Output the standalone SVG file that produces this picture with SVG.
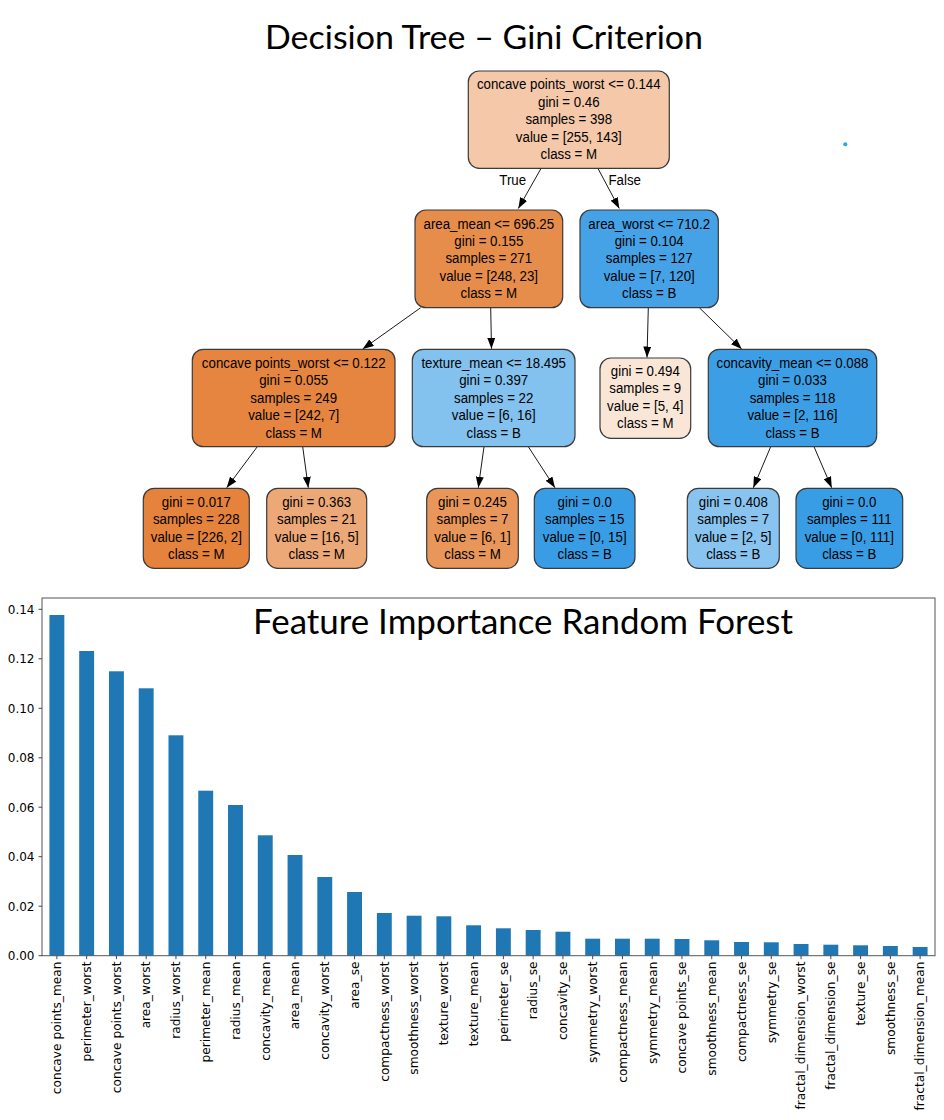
<svg xmlns="http://www.w3.org/2000/svg" width="944" height="1120" viewBox="0 0 944 1120">
<style>
.title{font-family:Lato,"Open Sans","Liberation Sans",sans-serif;fill:#000}
.nt{font-family:"Liberation Sans",Arial,sans-serif;font-size:15px;fill:#000;text-anchor:middle}
.box{stroke:#3a3a3a;stroke-width:1.2}
.edge{stroke:#1a1a1a;stroke-width:1;fill:none;marker-end:url(#ah)}
.bar{fill:#1f77b4}
.tick{stroke:#333;stroke-width:0.9}
.yl{font-family:"DejaVu Sans",sans-serif;font-size:12px;fill:#000;text-anchor:end}
.xl{font-family:"DejaVu Sans",sans-serif;font-size:12.2px;fill:#000;text-anchor:end}
</style>
<defs>
<marker id="ah" markerUnits="userSpaceOnUse" markerWidth="11" markerHeight="8" refX="11" refY="4" orient="auto">
<path d="M0,0 L11,4 L0,8 Z" fill="#000"/>
</marker>
</defs>
<rect width="944" height="1120" fill="#fff"/>
<text class="title" x="484" y="49" font-size="33" text-anchor="middle" textLength="438" lengthAdjust="spacingAndGlyphs">Decision Tree – Gini Criterion</text>

<g id="edges">
<line class="edge" x1="541" y1="168.5" x2="518.3" y2="208.5"/>
<line class="edge" x1="598" y1="168.5" x2="619.3" y2="208.5"/>
<line class="edge" x1="420.7" y1="307.7" x2="362.7" y2="349"/>
<line class="edge" x1="490.7" y1="307.7" x2="491.5" y2="348.8"/>
<line class="edge" x1="648.3" y1="307.7" x2="647" y2="357.5"/>
<line class="edge" x1="699.3" y1="307.7" x2="741.7" y2="349"/>
<line class="edge" x1="257.3" y1="446.7" x2="226.7" y2="487.8"/>
<line class="edge" x1="302.7" y1="446.7" x2="308.3" y2="487.8"/>
<line class="edge" x1="484" y1="446.7" x2="478.3" y2="487.8"/>
<line class="edge" x1="528.3" y1="446.7" x2="555" y2="487.8"/>
<line class="edge" x1="770.7" y1="446.7" x2="753.3" y2="487.8"/>
<line class="edge" x1="814" y1="446.7" x2="831.7" y2="487.8"/>
<g transform="translate(512.7,0) scale(0.885,1)"><text class="nt" x="0" y="185.4">True</text></g>
<g transform="translate(624.7,0) scale(0.885,1)"><text class="nt" x="0" y="185.4">False</text></g>
</g>

<g id="n0">
<rect class="box" x="468.3" y="71" width="201" height="97.3" rx="11" fill="#f4c8a8"/>
<g transform="translate(568.8,0) scale(0.885,1)">
<text class="nt" x="0" y="89.4">concave points_worst &lt;= 0.144</text>
<text class="nt" x="0" y="106.8">gini = 0.46</text>
<text class="nt" x="0" y="124.3">samples = 398</text>
<text class="nt" x="0" y="141.7">value = [255, 143]</text>
<text class="nt" x="0" y="159.2">class = M</text>
</g>
</g>

<g id="n1">
<rect class="box" x="415" y="210" width="147.7" height="97.7" rx="11" fill="#e78d4b"/>
<g transform="translate(488.8,0) scale(0.885,1)">
<text class="nt" x="0" y="228.6">area_mean &lt;= 696.25</text>
<text class="nt" x="0" y="246">gini = 0.155</text>
<text class="nt" x="0" y="263.5">samples = 271</text>
<text class="nt" x="0" y="280.9">value = [248, 23]</text>
<text class="nt" x="0" y="298.3">class = M</text>
</g>
</g>

<g id="n2">
<rect class="box" x="580" y="210" width="138.3" height="97.7" rx="11" fill="#45a2e6"/>
<g transform="translate(649.2,0) scale(0.885,1)">
<text class="nt" x="0" y="228.6">area_worst &lt;= 710.2</text>
<text class="nt" x="0" y="246">gini = 0.104</text>
<text class="nt" x="0" y="263.5">samples = 127</text>
<text class="nt" x="0" y="280.9">value = [7, 120]</text>
<text class="nt" x="0" y="298.3">class = B</text>
</g>
</g>

<g id="n3">
<rect class="box" x="192.3" y="349.3" width="202.7" height="97.4" rx="11" fill="#e6853f"/>
<g transform="translate(293.7,0) scale(0.885,1)">
<text class="nt" x="0" y="367.9">concave points_worst &lt;= 0.122</text>
<text class="nt" x="0" y="385.3">gini = 0.055</text>
<text class="nt" x="0" y="402.8">samples = 249</text>
<text class="nt" x="0" y="420.2">value = [242, 7]</text>
<text class="nt" x="0" y="437.6">class = M</text>
</g>
</g>

<g id="n4">
<rect class="box" x="412.3" y="349.3" width="162.7" height="97.4" rx="11" fill="#83c2ef"/>
<g transform="translate(493.7,0) scale(0.885,1)">
<text class="nt" x="0" y="367.9">texture_mean &lt;= 18.495</text>
<text class="nt" x="0" y="385.3">gini = 0.397</text>
<text class="nt" x="0" y="402.8">samples = 22</text>
<text class="nt" x="0" y="420.2">value = [6, 16]</text>
<text class="nt" x="0" y="437.6">class = B</text>
</g>
</g>

<g id="n5">
<rect class="box" x="600" y="358" width="90.7" height="80.3" rx="11" fill="#fae6d7"/>
<g transform="translate(645.3,0) scale(0.885,1)">
<text class="nt" x="0" y="376.2">gini = 0.494</text>
<text class="nt" x="0" y="393.5">samples = 9</text>
<text class="nt" x="0" y="410.8">value = [5, 4]</text>
<text class="nt" x="0" y="428.1">class = M</text>
</g>
</g>

<g id="n6">
<rect class="box" x="708.3" y="349.3" width="168.4" height="97.4" rx="11" fill="#3c9fe5"/>
<g transform="translate(792.5,0) scale(0.885,1)">
<text class="nt" x="0" y="367.9">concavity_mean &lt;= 0.088</text>
<text class="nt" x="0" y="385.3">gini = 0.033</text>
<text class="nt" x="0" y="402.8">samples = 118</text>
<text class="nt" x="0" y="420.2">value = [2, 116]</text>
<text class="nt" x="0" y="437.6">class = B</text>
</g>
</g>

<g id="n7">
<rect class="box" x="143.3" y="488.3" width="106" height="80" rx="11" fill="#e5823b"/>
<g transform="translate(196.3,0) scale(0.885,1)">
<text class="nt" x="0" y="507">gini = 0.017</text>
<text class="nt" x="0" y="524.4">samples = 228</text>
<text class="nt" x="0" y="541.8">value = [226, 2]</text>
<text class="nt" x="0" y="559">class = M</text>
</g>
</g>

<g id="n8">
<rect class="box" x="266.7" y="488.3" width="100" height="80" rx="11" fill="#eda877"/>
<g transform="translate(316.7,0) scale(0.885,1)">
<text class="nt" x="0" y="507">gini = 0.363</text>
<text class="nt" x="0" y="524.4">samples = 21</text>
<text class="nt" x="0" y="541.8">value = [16, 5]</text>
<text class="nt" x="0" y="559">class = M</text>
</g>
</g>

<g id="n9">
<rect class="box" x="426.7" y="488.3" width="91.6" height="80" rx="11" fill="#e9965a"/>
<g transform="translate(472.5,0) scale(0.885,1)">
<text class="nt" x="0" y="507">gini = 0.245</text>
<text class="nt" x="0" y="524.4">samples = 7</text>
<text class="nt" x="0" y="541.8">value = [6, 1]</text>
<text class="nt" x="0" y="559">class = M</text>
</g>
</g>

<g id="n10">
<rect class="box" x="534.3" y="488.3" width="100.7" height="80" rx="11" fill="#399de5"/>
<g transform="translate(584.7,0) scale(0.885,1)">
<text class="nt" x="0" y="507">gini = 0.0</text>
<text class="nt" x="0" y="524.4">samples = 15</text>
<text class="nt" x="0" y="541.8">value = [0, 15]</text>
<text class="nt" x="0" y="559">class = B</text>
</g>
</g>

<g id="n11">
<rect class="box" x="687.3" y="488.3" width="92" height="80" rx="11" fill="#88c4ef"/>
<g transform="translate(733.3,0) scale(0.885,1)">
<text class="nt" x="0" y="507">gini = 0.408</text>
<text class="nt" x="0" y="524.4">samples = 7</text>
<text class="nt" x="0" y="541.8">value = [2, 5]</text>
<text class="nt" x="0" y="559">class = B</text>
</g>
</g>

<g id="n12">
<rect class="box" x="796" y="488.3" width="106.7" height="80" rx="11" fill="#399de5"/>
<g transform="translate(849.3,0) scale(0.885,1)">
<text class="nt" x="0" y="507">gini = 0.0</text>
<text class="nt" x="0" y="524.4">samples = 111</text>
<text class="nt" x="0" y="541.8">value = [0, 111]</text>
<text class="nt" x="0" y="559">class = B</text>
</g>
</g>

<circle cx="845.3" cy="144.3" r="2" fill="#1aaee0"/>

<g id="chart">
<g id="bars">
<rect class="bar" x="49.43" y="615" width="14.9" height="340.7"/>
<rect class="bar" x="79.2" y="651" width="14.9" height="304.7"/>
<rect class="bar" x="108.97" y="671.3" width="14.9" height="284.4"/>
<rect class="bar" x="138.73" y="688.3" width="14.9" height="267.4"/>
<rect class="bar" x="168.5" y="735.3" width="14.9" height="220.4"/>
<rect class="bar" x="198.27" y="790.7" width="14.9" height="165"/>
<rect class="bar" x="228.03" y="805" width="14.9" height="150.7"/>
<rect class="bar" x="257.8" y="835.3" width="14.9" height="120.4"/>
<rect class="bar" x="287.57" y="855" width="14.9" height="100.7"/>
<rect class="bar" x="317.33" y="877" width="14.9" height="78.7"/>
<rect class="bar" x="347.1" y="892" width="14.9" height="63.7"/>
<rect class="bar" x="376.87" y="913" width="14.9" height="42.7"/>
<rect class="bar" x="406.63" y="915.7" width="14.9" height="40"/>
<rect class="bar" x="436.4" y="916.3" width="14.9" height="39.4"/>
<rect class="bar" x="466.17" y="925.3" width="14.9" height="30.4"/>
<rect class="bar" x="495.93" y="928.3" width="14.9" height="27.4"/>
<rect class="bar" x="525.7" y="930" width="14.9" height="25.7"/>
<rect class="bar" x="555.47" y="931.7" width="14.9" height="24"/>
<rect class="bar" x="585.23" y="938.7" width="14.9" height="17"/>
<rect class="bar" x="615" y="938.7" width="14.9" height="17"/>
<rect class="bar" x="644.77" y="938.7" width="14.9" height="17"/>
<rect class="bar" x="674.53" y="939" width="14.9" height="16.7"/>
<rect class="bar" x="704.3" y="940.3" width="14.9" height="15.4"/>
<rect class="bar" x="734.07" y="942" width="14.9" height="13.7"/>
<rect class="bar" x="763.83" y="942.3" width="14.9" height="13.4"/>
<rect class="bar" x="793.6" y="944" width="14.9" height="11.7"/>
<rect class="bar" x="823.37" y="944.7" width="14.9" height="11"/>
<rect class="bar" x="853.13" y="945.3" width="14.9" height="10.4"/>
<rect class="bar" x="882.9" y="946" width="14.9" height="9.7"/>
<rect class="bar" x="912.67" y="947" width="14.9" height="8.7"/>
</g>
<rect x="42" y="598" width="893" height="357.7" fill="none" stroke="#555" stroke-width="1"/>
<g id="yticks">
<path class="tick" d="M38.5,955.7H42M38.5,906.2H42M38.5,856.7H42M38.5,807.2H42M38.5,757.8H42M38.5,708.3H42M38.5,658.8H42M38.5,609.3H42"/>
<text class="yl" x="34.5" y="960">0.00</text>
<text class="yl" x="34.5" y="910.5">0.02</text>
<text class="yl" x="34.5" y="861">0.04</text>
<text class="yl" x="34.5" y="811.5">0.06</text>
<text class="yl" x="34.5" y="762.1">0.08</text>
<text class="yl" x="34.5" y="712.6">0.10</text>
<text class="yl" x="34.5" y="663.1">0.12</text>
<text class="yl" x="34.5" y="613.6">0.14</text>
</g>
<g id="xticks">
<path class="tick" d="M56.88,955.7V959.2M86.65,955.7V959.2M116.42,955.7V959.2M146.18,955.7V959.2M175.95,955.7V959.2M205.72,955.7V959.2M235.48,955.7V959.2M265.25,955.7V959.2M295.02,955.7V959.2M324.78,955.7V959.2M354.55,955.7V959.2M384.32,955.7V959.2M414.08,955.7V959.2M443.85,955.7V959.2M473.62,955.7V959.2M503.38,955.7V959.2M533.15,955.7V959.2M562.92,955.7V959.2M592.68,955.7V959.2M622.45,955.7V959.2M652.22,955.7V959.2M681.98,955.7V959.2M711.75,955.7V959.2M741.52,955.7V959.2M771.28,955.7V959.2M801.05,955.7V959.2M830.82,955.7V959.2M860.58,955.7V959.2M890.35,955.7V959.2M920.12,955.7V959.2"/>
<text class="xl" transform="translate(61.18,961.5) rotate(-90)">concave points_mean</text>
<text class="xl" transform="translate(90.95,961.5) rotate(-90)">perimeter_worst</text>
<text class="xl" transform="translate(120.72,961.5) rotate(-90)">concave points_worst</text>
<text class="xl" transform="translate(150.48,961.5) rotate(-90)">area_worst</text>
<text class="xl" transform="translate(180.25,961.5) rotate(-90)">radius_worst</text>
<text class="xl" transform="translate(210.02,961.5) rotate(-90)">perimeter_mean</text>
<text class="xl" transform="translate(239.78,961.5) rotate(-90)">radius_mean</text>
<text class="xl" transform="translate(269.55,961.5) rotate(-90)">concavity_mean</text>
<text class="xl" transform="translate(299.32,961.5) rotate(-90)">area_mean</text>
<text class="xl" transform="translate(329.08,961.5) rotate(-90)">concavity_worst</text>
<text class="xl" transform="translate(358.85,961.5) rotate(-90)">area_se</text>
<text class="xl" transform="translate(388.62,961.5) rotate(-90)">compactness_worst</text>
<text class="xl" transform="translate(418.38,961.5) rotate(-90)">smoothness_worst</text>
<text class="xl" transform="translate(448.15,961.5) rotate(-90)">texture_worst</text>
<text class="xl" transform="translate(477.92,961.5) rotate(-90)">texture_mean</text>
<text class="xl" transform="translate(507.68,961.5) rotate(-90)">perimeter_se</text>
<text class="xl" transform="translate(537.45,961.5) rotate(-90)">radius_se</text>
<text class="xl" transform="translate(567.22,961.5) rotate(-90)">concavity_se</text>
<text class="xl" transform="translate(596.98,961.5) rotate(-90)">symmetry_worst</text>
<text class="xl" transform="translate(626.75,961.5) rotate(-90)">compactness_mean</text>
<text class="xl" transform="translate(656.52,961.5) rotate(-90)">symmetry_mean</text>
<text class="xl" transform="translate(686.28,961.5) rotate(-90)">concave points_se</text>
<text class="xl" transform="translate(716.05,961.5) rotate(-90)">smoothness_mean</text>
<text class="xl" transform="translate(745.82,961.5) rotate(-90)">compactness_se</text>
<text class="xl" transform="translate(775.58,961.5) rotate(-90)">symmetry_se</text>
<text class="xl" transform="translate(805.35,961.5) rotate(-90)">fractal_dimension_worst</text>
<text class="xl" transform="translate(835.12,961.5) rotate(-90)">fractal_dimension_se</text>
<text class="xl" transform="translate(864.88,961.5) rotate(-90)">texture_se</text>
<text class="xl" transform="translate(894.65,961.5) rotate(-90)">smoothness_se</text>
<text class="xl" transform="translate(924.42,961.5) rotate(-90)">fractal_dimension_mean</text>
</g>
<text class="title" x="523" y="634" font-size="35" text-anchor="middle" textLength="540" lengthAdjust="spacingAndGlyphs">Feature Importance Random Forest</text>
</g>
</svg>
